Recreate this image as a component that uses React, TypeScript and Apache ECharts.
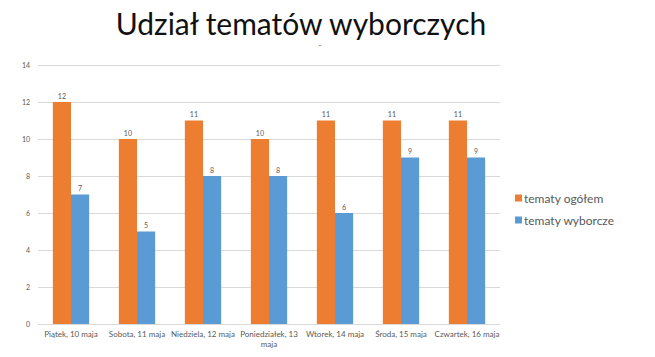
import React, { useEffect, useRef } from "react";
import * as echarts from "echarts";

const categories = [
  "Piątek, 10 maja",
  "Sobota, 11 maja",
  "Niedziela, 12 maja",
  "Poniedziałek, 13\nmaja",
  "Wtorek, 14 maja",
  "Środa, 15 maja",
  "Czwartek, 16 maja",
];
const tematyOgolem = [12, 10, 11, 10, 11, 11, 11];
const tematyWyborcze = [7, 5, 8, 8, 6, 9, 9];
const seriesNames = ["tematy ogółem", "tematy wyborcze"];
const titleText = "Udział tematów wyborczych";

export default function App() {
  const ref = useRef<HTMLDivElement>(null);
  useEffect(() => {
    if (!ref.current) return;
    const chart = echarts.init(ref.current, null, { renderer: "svg" });
    const font = "Lato, 'Open Sans', sans-serif";
    const labelStyle = {
      show: true,
      position: "top" as const,
      fontSize: 7,
      color: "#595959",
      fontFamily: font,
      distance: 3,
    };
    chart.setOption({
      animation: false,
      backgroundColor: "#ffffff",
      title: {
        text: titleText,
        left: 301,
        textAlign: "center",
        top: 3,
        padding: 0,
        textStyle: {
          fontSize: 30,
          lineHeight: 40,
          fontWeight: "normal",
          color: "#111111",
          fontFamily: font,
        },
      },
      graphic: [
        {
          type: "text",
          left: 318,
          top: 44,
          style: { text: "˝", fontSize: 8, fill: "#444", fontFamily: font },
        },
      ],
      legend: {
        orient: "vertical",
        left: 510,
        top: 187,
        itemWidth: 7,
        itemHeight: 7,
        itemGap: 10,
        icon: "rect",
        textStyle: { fontSize: 12, color: "#595959", fontFamily: font, padding: [0, 0, 0, -3] },
        data: seriesNames,
      },
      grid: { left: 38, right: 155, top: 65, bottom: 33, containLabel: false },
      xAxis: {
        type: "category",
        data: categories,
        axisLine: { lineStyle: { color: "#d9d9d9" } },
        axisTick: { show: false },
        axisLabel: {
          interval: 0,
          fontSize: 8,
          color: "#595959",
          fontFamily: font,
          lineHeight: 10,
          margin: 5,
        },
      },
      yAxis: {
        type: "value",
        min: 0,
        max: 14,
        interval: 2,
        axisLine: { show: false },
        axisTick: { show: false },
        splitLine: { lineStyle: { color: "#d9d9d9" } },
        axisLabel: { fontSize: 7, color: "#595959", fontFamily: font, margin: 8 },
      },
      series: [
        {
          name: seriesNames[0],
          type: "bar",
          data: tematyOgolem,
          itemStyle: { color: "#ED7D31" },
          barGap: "0%",
          barCategoryGap: "45%",
          label: labelStyle,
        },
        {
          name: seriesNames[1],
          type: "bar",
          data: tematyWyborcze,
          itemStyle: { color: "#5B9BD5" },
          label: labelStyle,
        },
      ],
    });
    return () => chart.dispose();
  }, []);
  return <div ref={ref} style={{ width: 655, height: 357, position: "absolute", left: 0, top: 0 }} />;
}
